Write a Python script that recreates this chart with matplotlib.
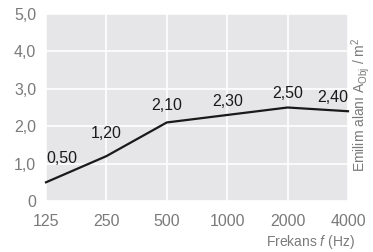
import matplotlib
matplotlib.use("Agg")
import matplotlib.pyplot as plt
from matplotlib.ticker import FixedLocator, FixedFormatter, NullLocator

freqs = [125, 250, 500, 1000, 2000, 4000]
freq_labels = ["125", "250", "500", "1000", "2000", "4000"]
values = [0.50, 1.20, 2.10, 2.30, 2.50, 2.40]
value_labels = ["0,50", "1,20", "2,10", "2,30", "2,50", "2,40"]
y_ticks = [0, 1, 2, 3, 4, 5]
y_tick_labels = ["0", "1,0", "2,0", "3,0", "4,0", "5,0"]

FONT = "Liberation Sans"
plt.rcParams["font.family"] = [FONT, "DejaVu Sans"]
plt.rcParams["mathtext.fontset"] = "custom"
plt.rcParams["mathtext.rm"] = FONT
plt.rcParams["mathtext.it"] = FONT + ":italic"

fig = plt.figure(figsize=(3.73, 2.52), dpi=100)
ax = fig.add_axes([46/373, 1-201/252, (348-46)/373, (201-14)/252])
ax.set_facecolor("#e6e6e8")
for s in ax.spines.values():
    s.set_visible(False)

ax.set_xscale("log", base=2)
ax.set_xlim(125, 4000)
ax.set_ylim(0, 5)
ax.xaxis.set_major_locator(FixedLocator(freqs))
ax.xaxis.set_major_formatter(FixedFormatter(freq_labels))
ax.xaxis.set_minor_locator(NullLocator())
ax.yaxis.set_major_locator(FixedLocator(y_ticks))
ax.yaxis.set_major_formatter(FixedFormatter(y_tick_labels))
ax.grid(True, color="white", linewidth=1.2)
ax.set_axisbelow(True)
ax.tick_params(axis="both", length=0, labelsize=11.5, colors="#7a7a7a")
ax.tick_params(axis="x", pad=9)
ax.tick_params(axis="y", pad=7)

ax.plot(freqs, values, color="#1a1a1a", linewidth=1.6, clip_on=False, zorder=3)

offsets = [(0, 17), (0, 16), (0, 12), (0, 10), (0, 10), (0, 10)]
has = ["left", "center", "center", "center", "center", "right"]
for f, v, lab, off, ha in zip(freqs, values, value_labels, offsets, has):
    ax.annotate(lab, (f, v), xytext=off, textcoords="offset points",
                ha=ha, va="center", fontsize=11.5, color="#1a1a1a")

fig.text(355/373, 1-242/252, "Frekans $\\mathit{f}$ (Hz)", ha="right", va="center",
         fontsize=10, color="#7a7a7a")
fig.text(361/373, 1-105/252, "Emilim alanı A$_{\\mathrm{Obj}}$ / m$^{2}$", rotation=90,
         ha="center", va="center", fontsize=10, color="#7a7a7a")

fig.savefig("out.png", dpi=100)
